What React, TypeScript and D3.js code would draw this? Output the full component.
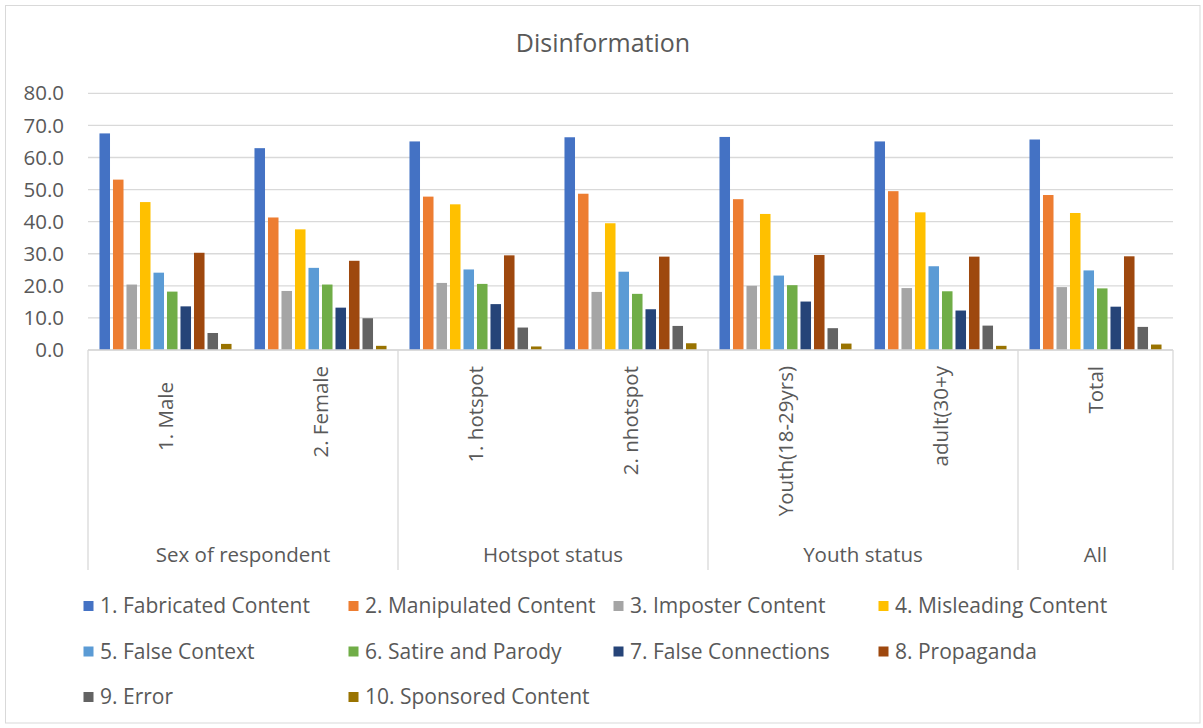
import React from "react";
import * as d3 from "d3";

// Category axis: inner labels and the outer groups they belong to
const categories = ["1. Male   ", "2. Female", "1. hotspot", "2. nhotspot", "Youth(18-29yrs)", "adult(30+y", "Total"];
const groupNames = ["Sex of respondent", "Hotspot status", "Youth status", "All"];
const groupSizes = [2, 2, 2, 1];

// Series (percent of respondents)
const seriesNames = [
  "1. Fabricated Content",
  "2. Manipulated Content",
  "3. Imposter Content",
  "4. Misleading Content",
  "5. False Context",
  "6. Satire and Parody",
  "7. False Connections",
  "8. Propaganda",
  "9. Error",
  "10. Sponsored Content",
];
const fabricated = [67.5, 62.9, 65.0, 66.3, 66.4, 65.0, 65.6];
const manipulated = [53.1, 41.3, 47.8, 48.7, 47.0, 49.5, 48.3];
const imposter = [20.4, 18.4, 20.9, 18.1, 20.0, 19.3, 19.6];
const misleading = [46.1, 37.6, 45.4, 39.5, 42.4, 42.9, 42.7];
const falseContext = [24.1, 25.6, 25.1, 24.4, 23.2, 26.1, 24.8];
const satire = [18.2, 20.4, 20.6, 17.5, 20.2, 18.3, 19.2];
const falseConnections = [13.6, 13.2, 14.3, 12.7, 15.1, 12.3, 13.5];
const propaganda = [30.3, 27.8, 29.5, 29.1, 29.6, 29.1, 29.2];
const errorVals = [5.3, 9.9, 7.0, 7.5, 6.8, 7.6, 7.2];
const sponsored = [1.9, 1.3, 1.1, 2.1, 2.0, 1.3, 1.7];
const seriesValues = [fabricated, manipulated, imposter, misleading, falseContext, satire, falseConnections, propaganda, errorVals, sponsored];

const colors = ["#4472C4", "#ED7D31", "#A5A5A5", "#FFC000", "#5B9BD5", "#70AD47", "#264478", "#9E480E", "#636363", "#997300"];
const yTicks = [0, 10, 20, 30, 40, 50, 60, 70, 80];

const W = 1203;
const H = 728;
const FONT = "'Open Sans', 'Noto Sans', sans-serif";
const TEXT = "#595959";
const GRID = "#D9D9D9";

export default function App() {
  const left = 88;
  const right = 1173;
  const top = 93.3;
  const base = 350;
  const axisBottom = 570;

  const x0 = d3.scaleBand<number>().domain(d3.range(categories.length)).range([left, right]).padding(0);
  const x1 = d3
    .scaleBand<number>()
    .domain(d3.range(seriesNames.length))
    .range([0, x0.bandwidth()])
    .paddingInner(0.22)
    .paddingOuter(0.85);
  const y = d3.scaleLinear().domain([0, 80]).range([base, top]);
  const fmt = d3.format(".1f");

  // group boundaries along the category axis
  const cum = [0, ...d3.cumsum(groupSizes)];
  const boundaries = cum.map((c) => left + c * x0.step());

  const legendX = (i: number) => 83.5 + (i % 4) * 265;
  const legendY = (i: number) => 606 + Math.floor(i / 4) * 45.5;

  return (
    <svg width={W} height={H} style={{ position: "absolute", left: 0, top: 0, background: "#fff" }} fontFamily={FONT}>
      <rect x={5.5} y={5.5} width={W - 3 - 5.5} height={H - 5 - 5.5} fill="#fff" stroke={GRID} strokeWidth={1} />

      <text x={603} y={52} textAnchor="middle" fontSize={25} fill={TEXT}>
        Disinformation
      </text>

      {/* gridlines and value labels */}
      {yTicks.map((t) => (
        <g key={t}>
          <line x1={left} x2={right} y1={y(t)} y2={y(t)} stroke={GRID} strokeWidth={1.3} />
          <text x={64} y={y(t)} dy="0.35em" textAnchor="end" fontSize={20.5} fill={TEXT}>
            {fmt(t)}
          </text>
        </g>
      ))}

      {/* bars */}
      {seriesValues.map((vals, s) => (
        <g key={s} fill={colors[s]}>
          {vals.map((v, c) => (
            <rect
              key={c}
              x={(x0(c) ?? 0) + (x1(s) ?? 0)}
              y={y(v)}
              width={x1.bandwidth()}
              height={y(0) - y(v)}
            />
          ))}
        </g>
      ))}

      {/* multi-level category axis frame */}
      <line x1={left} x2={right} y1={base} y2={base} stroke={GRID} strokeWidth={1.3} />
      {boundaries.map((bx, i) => (
        <line key={i} x1={bx} x2={bx} y1={base} y2={axisBottom} stroke={GRID} strokeWidth={1.3} />
      ))}

      {categories.map((c, i) => (
        <text
          key={c}
          transform={`translate(${(x0(i) ?? 0) + x0.bandwidth() / 2},366) rotate(-90)`}
          dy="0.35em"
          textAnchor="end"
          fontSize={20.5}
          fill={TEXT}
          style={{ whiteSpace: "pre" }}
        >
          {c}
        </text>
      ))}

      {groupNames.map((g, i) => (
        <text key={g} x={(boundaries[i] + boundaries[i + 1]) / 2} y={562} textAnchor="middle" fontSize={20.5} fill={TEXT}>
          {g}
        </text>
      ))}

      {/* legend */}
      {seriesNames.map((name, i) => (
        <g key={name}>
          <rect x={legendX(i)} y={legendY(i) - 5} width={10} height={10} fill={colors[i]} />
          <text x={legendX(i) + 16.5} y={legendY(i)} dy="0.35em" fontSize={21} fill={TEXT}>
            {name}
          </text>
        </g>
      ))}
    </svg>
  );
}
